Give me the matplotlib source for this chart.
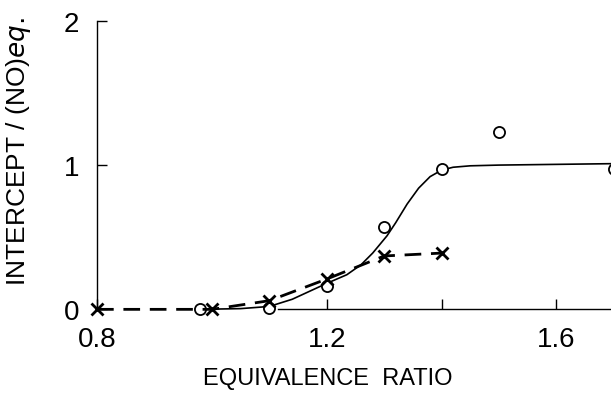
import matplotlib.pyplot as plt

# Measured points: intercept / (NO)eq versus equivalence ratio
phi_o = [0.98, 1.1, 1.2, 1.3, 1.4, 1.5, 1.7]
val_o = [0.0, 0.01, 0.16, 0.57, 0.97, 1.23, 0.97]

phi_x = [0.8, 1.0, 1.1, 1.2, 1.3, 1.4]
val_x = [0.0, 0.0, 0.06, 0.21, 0.37, 0.39]

# Hand-drawn fit through the circles
fit_phi = [0.98, 1.05, 1.10, 1.14, 1.20, 1.235, 1.26, 1.28, 1.305,
           1.32, 1.34, 1.36, 1.38, 1.40, 1.42, 1.45, 1.50, 1.60, 1.70]
fit_val = [0.0, 0.005, 0.02, 0.07, 0.18, 0.24, 0.31, 0.39, 0.51,
           0.60, 0.73, 0.84, 0.92, 0.965, 0.985, 0.995, 1.0, 1.005, 1.01]

xticks = [0.8, 1.2, 1.4, 1.6]
xticklabels = ["0.8", "1.2", "", "1.6"]
yticks = [0, 1, 2]

plt.rcParams["font.family"] = ["Liberation Sans", "DejaVu Sans"]

fig = plt.figure(figsize=(6.11, 4.02), dpi=100)
ax = fig.add_axes([0.1588, 0.228, 0.8412, 0.7177])

ax.plot(fit_phi, fit_val, color="black", linewidth=1.2, clip_on=False)
ax.plot(phi_o, val_o, linestyle="none", marker="o", markersize=8,
        markerfacecolor="white", markeredgecolor="black",
        markeredgewidth=1.3, clip_on=False, zorder=3)
ax.plot(phi_x, val_x, color="black", linewidth=2.0, linestyle=(0, (6, 3.5)),
        marker="x", markersize=9, markeredgewidth=2.0, clip_on=False,
        zorder=4)

ax.set_xlim(0.8, 1.695)
ax.set_ylim(0, 2)

ax.spines["top"].set_visible(False)
ax.spines["right"].set_visible(False)
ax.spines["bottom"].set_bounds(1.115, 1.695)
ax.spines["left"].set_linewidth(1.0)
ax.spines["bottom"].set_linewidth(1.0)

ax.set_xticks(xticks)
ax.set_xticklabels(xticklabels)
ax.set_yticks(yticks)
ax.tick_params(axis="both", direction="in", length=7, width=1.0,
               labelsize=20)
ax.tick_params(axis="x", pad=12)
ax.tick_params(axis="y", pad=13)

ax.set_xlabel("EQUIVALENCE  RATIO", fontsize=17)
ax.xaxis.set_label_coords(0.449, -0.2)
ax.set_ylabel("INTERCEPT / (NO)$\\mathit{eq.}$", fontsize=19)
ax.yaxis.set_label_coords(-0.1245, 0.552)

fig.savefig("out.png", dpi=100)
